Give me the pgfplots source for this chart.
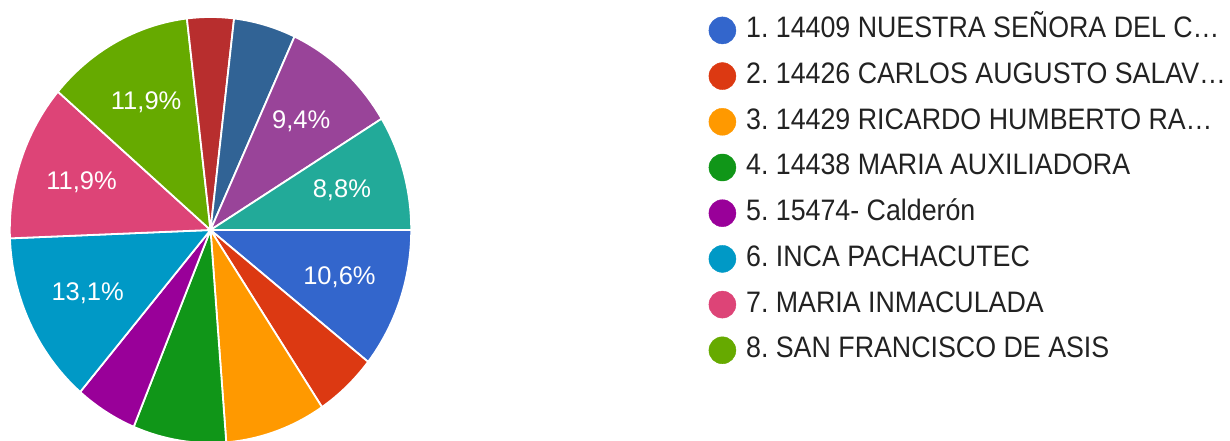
\documentclass[border=0pt]{standalone}
\usepackage{fontspec}
\setmainfont{Liberation Sans}
\newfontfamily\legfont{Liberation Sans}[FakeStretch=0.905]
\usepackage{pgfplots}
\usepackage{pgfplotstable}
\pgfplotsset{compat=1.18}
\frenchspacing

% Google chart palette
\definecolor{c1}{HTML}{3366CC}
\definecolor{c2}{HTML}{DC3912}
\definecolor{c3}{HTML}{FF9900}
\definecolor{c4}{HTML}{109618}
\definecolor{c5}{HTML}{990099}
\definecolor{c6}{HTML}{0099C6}
\definecolor{c7}{HTML}{DD4477}
\definecolor{c8}{HTML}{66AA00}
\definecolor{c9}{HTML}{B82E2E}
\definecolor{c10}{HTML}{316395}
\definecolor{c11}{HTML}{994499}
\definecolor{c12}{HTML}{22AA99}
\definecolor{legtext}{HTML}{222222}

% answers per school, 160 in all, clockwise from 3 o'clock
\pgfplotstableread{
n  colour
17 c1
8  c2
13 c3
12 c4
8  c5
21 c6
19 c7
19 c8
6  c9
8  c10
15 c11
14 c12
}\slices

\begin{document}
\begin{tikzpicture}
\clip (0,0) rectangle (1230pt,441pt);
\begin{axis}[
  at={(0,0)}, anchor=south west,
  width=1230pt, height=441pt, scale only axis,
  xmin=0, xmax=1230, ymin=0, ymax=441,
  hide axis, clip=false,
  legend image code/.code={\fill[#1] (13.5pt,0pt) circle (13.5pt);},
  legend cell align=left,
  legend style={at={(axis cs:708.5,424.5)}, anchor=north west,
    draw=none, fill=none, text=legtext,
    font=\legfont\fontsize{29.6}{35}\selectfont,
    inner sep=0pt, column sep=10pt, row sep=18.3pt,
    nodes={inner sep=0pt, text height=21pt, text depth=6pt}},
]
\addlegendimage{c1}
\addlegendimage{c2}
\addlegendimage{c3}
\addlegendimage{c4}
\addlegendimage{c5}
\addlegendimage{c6}
\addlegendimage{c7}
\addlegendimage{c8}
\legend{1. 14409 NUESTRA SEÑORA DEL C…,
  2. 14426 CARLOS AUGUSTO SALAV…,
  3. 14429 RICARDO HUMBERTO RA…,
  4. 14438 MARIA AUXILIADORA,
  5. 15474- Calderón,
  6. INCA PACHACUTEC,
  7. MARIA INMACULADA,
  8. SAN FRANCISCO DE ASIS}

\def\astart{0}
\pgfplotsforeachungrouped \i in {0,...,11}{
  \pgfplotstablegetelem{\i}{n}\of\slices
  \let\cnt\pgfplotsretval
  \pgfplotstablegetelem{\i}{colour}\of\slices
  \let\col\pgfplotsretval
  \pgfmathsetmacro\aend{\astart+\cnt*2.25}
  \pgfmathsetmacro\amid{(\astart+\aend)/2}
  \pgfmathsetmacro\lx{210.5+136.5*cos(\amid)}
  \pgfmathsetmacro\ly{211-145*sin(\amid)}
  \pgfmathtruncatemacro\tenths{round(\cnt*6.25)}
  \pgfmathtruncatemacro\ip{\tenths/10}
  \pgfmathtruncatemacro\fp{\tenths-10*\ip}
  \edef\temp{\noexpand\fill[fill=\col, draw=white, line width=1.8pt]
    (axis cs:210.5,211) -- ++(-\astart:200.7pt and 213pt)
    arc[start angle=-\astart, end angle=-\aend, x radius=200.7pt, y radius=213pt] -- cycle;}
  \temp
  \ifnum\cnt>13
    \edef\temp{\noexpand\node[text=white, font=\noexpand\fontsize{25.5}{30}\noexpand\selectfont]
      at (axis cs:\lx,\ly) {\ip,\fp\noexpand\%};}
    \temp
  \fi
  \global\let\astart\aend
}
\end{axis}
\end{tikzpicture}
\end{document}
